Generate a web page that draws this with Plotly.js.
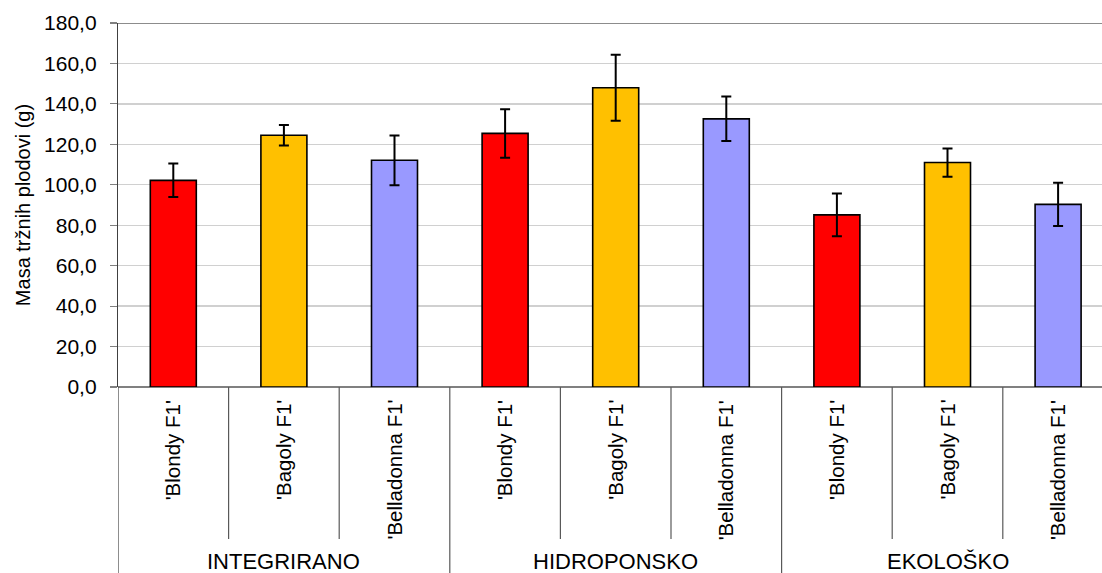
<!DOCTYPE html>
<html>
<head>
<meta charset="utf-8">
<script src="https://cdn.plot.ly/plotly-3.0.1.min.js"></script>
<style>html,body{margin:0;padding:0;background:#fff;}#chart{width:1102px;height:573px;}</style>
</head>
<body>
<div id="chart"></div>
<script>
// Data
var groups = ["INTEGRIRANO","INTEGRIRANO","INTEGRIRANO","HIDROPONSKO","HIDROPONSKO","HIDROPONSKO","EKOLOŠKO","EKOLOŠKO","EKOLOŠKO"];
var varieties = ["'Blondy F1'","'Bagoly F1'","'Belladonna F1'","'Blondy F1'","'Bagoly F1'","'Belladonna F1'","'Blondy F1'","'Bagoly F1'","'Belladonna F1'"];
var values = [102.2, 124.5, 112.1, 125.4, 148.0, 132.6, 85.1, 111.0, 90.3];
var errors = [8.3, 5.1, 12.3, 12.0, 16.3, 11.0, 10.6, 7.0, 10.7];
var yTickLabels = ["0,0","20,0","40,0","60,0","80,0","100,0","120,0","140,0","160,0","180,0"];

var colorMap = {"'Blondy F1'":"#FF0000","'Bagoly F1'":"#FFC000","'Belladonna F1'":"#9999FF"};
var FONT = "Liberation Sans, Arial, sans-serif";

var xIdx = values.map(function(v,i){return i;});
var trace = {
  type: 'bar',
  x: xIdx,
  y: values,
  width: 0.416,
  marker: {color: varieties.map(function(v){return colorMap[v];}), line: {color:'#000', width:1.6}},
  error_y: {type:'data', array: errors, visible:true, color:'#000', thickness:2, width:5},
  hoverinfo: 'y',
  showlegend: false
};

var PLOT_TOP = 23, PLOT_BOT = 387, H = 573;
function py(pix){ return (PLOT_BOT - pix) / (PLOT_BOT - PLOT_TOP); }

var annotations = [];
var shapes = [];
varieties.forEach(function(v,i){
  annotations.push({x:i, xref:'x', y:py(398), yref:'paper', text:v, textangle:-90,
    showarrow:false, xanchor:'center', yanchor:'top', font:{family:FONT,size:20.5,color:'#000'}});
});
// group labels
var seen = {};
groups.forEach(function(g,i){
  if(seen[g]) return;
  var idx = [];
  groups.forEach(function(h,j){ if(h===g) idx.push(j); });
  seen[g] = true;
  var c = (idx[0] + idx[idx.length-1]) / 2;
  annotations.push({x:c, xref:'x', y:py(561), yref:'paper', text:g, showarrow:false,
    xanchor:'center', yanchor:'middle', font:{family:FONT,size:22,color:'#000'}});
});
// separators
shapes.push({type:'line', xref:'x', yref:'paper', x0:-0.5, x1:-0.5, y0:0, y1:py(H+2), line:{color:'#404040', width:1.2}});
groups.forEach(function(g,i){
  var long = (i === groups.length-1) || groups[i+1] !== g;
  shapes.push({type:'line', xref:'x', yref:'paper', x0:i+0.5, x1:i+0.5, y0:0,
    y1: long ? py(H+2) : py(539), line:{color:'#595959', width:1.2}});
});
// top border line
shapes.push({type:'line', xref:'paper', yref:'y', x0:0, x1:1, y0:180, y1:180, line:{color:'#8c8c8c', width:2}});

var layout = {
  width: 1102, height: 573,
  margin: {l:118, r:0, t:PLOT_TOP, b:H-PLOT_BOT, pad:0},
  paper_bgcolor:'#fff', plot_bgcolor:'#fff',
  separators: ', ',
  font: {family: FONT, color:'#000'},
  xaxis: {range:[-0.5, -0.5 + 984/110.6], showticklabels:false, showgrid:false, zeroline:false,
    showline:false, ticks:'', fixedrange:true},
  yaxis: {range:[0,180], tickvals:[0,20,40,60,80,100,120,140,160,180], ticktext:yTickLabels,
    showgrid:true, gridcolor:'#d0d0d0', gridwidth:1.3,
    zeroline:true, zerolinecolor:'#808080', zerolinewidth:1.3,
    showline:true, linecolor:'#404040', linewidth:1.2,
    ticks:'outside', ticklen:7, tickcolor:'#808080', tickwidth:1.2, ticklabelstandoff:9,
    tickfont:{family:FONT, size:21, color:'#000'},
    title:{text:'Masa tržnih plodovi (g)', font:{family:FONT, size:20, color:'#000'}, standoff:8}},
  shapes: shapes,
  annotations: annotations,
  bargap: 0
};

Plotly.newPlot('chart', [trace], layout, {displayModeBar:false, staticPlot:true});
</script>
</body>
</html>
